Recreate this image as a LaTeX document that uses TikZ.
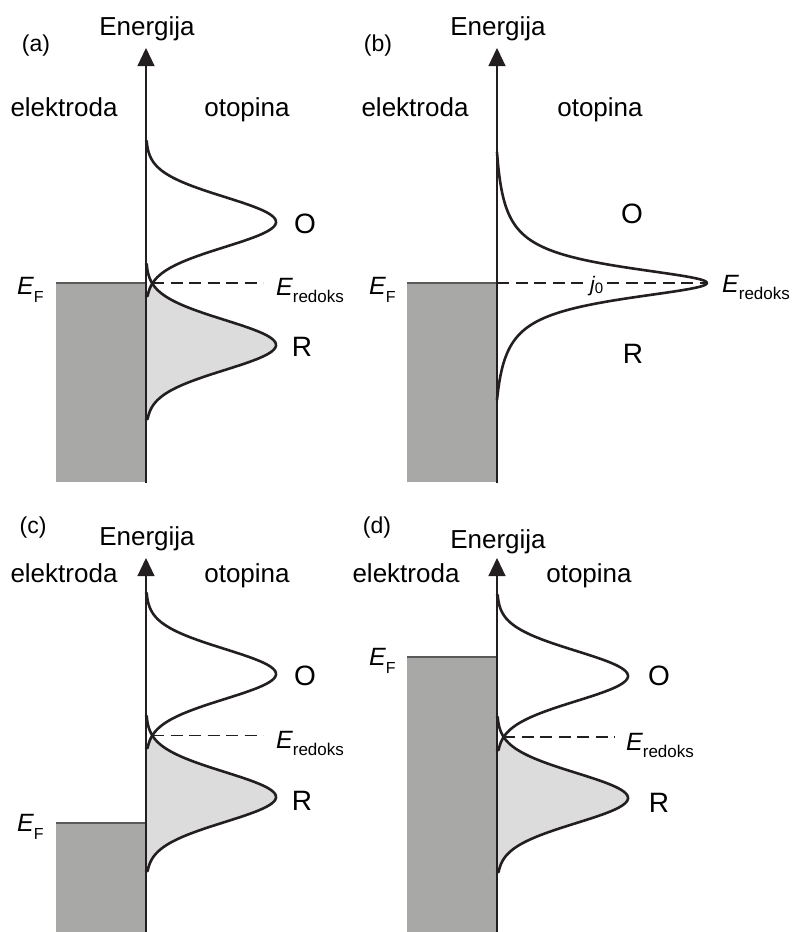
\documentclass[tikz,border=0pt]{standalone}
\usepackage{fontspec}
\setmainfont{Liberation Sans}
\usetikzlibrary{arrows.meta}
\definecolor{ink}{HTML}{231F20}
\definecolor{elgray}{HTML}{A8A8A7}
\definecolor{lightfill}{HTML}{DCDCDC}
\definecolor{edgegray}{HTML}{5A5A5A}
\newcommand\EF{{\fontsize{25}{30}\selectfont\itshape E}\raisebox{-8pt}{\fontsize{16}{16}\selectfont F}}
\newcommand\Ered{{\fontsize{25}{30}\selectfont\itshape E}\raisebox{-7pt}{\fontsize{17}{17}\selectfont redoks}}
\newcommand\twopeaks[4]{%
  \pgfmathsetmacro\hsep{(#3-#2)/2}%
  \fill[lightfill] (#1,#2+74) -- plot[domain=74:\hsep,samples=25,smooth] ({#1+#4*exp(-(\x*\x)/1250)},{#2+\x}) -- plot[domain=-\hsep:74,samples=80,smooth] ({#1+#4*exp(-(\x*\x)/1250)},{#3+\x}) -- (#1,#3+74) -- cycle;
  \draw[curve] (#1,#2-81) -- plot[domain=-81:74,samples=90,smooth] ({#1+#4*exp(-(\x*\x)/1250)},{#2+\x}) -- (#1,#2+74);
  \draw[curve] (#1,#3-81) -- plot[domain=-81:74,samples=90,smooth] ({#1+#4*exp(-(\x*\x)/1250)},{#3+\x}) -- (#1,#3+74);
}
\begin{document}
\begin{tikzpicture}[x=1pt,y=-1pt,
  txt/.style={inner sep=0pt, anchor=base, font=\fontsize{26}{30}\selectfont},
  tag/.style={inner sep=0pt, anchor=base, font=\fontsize{23}{28}\selectfont},
  big/.style={inner sep=0pt, anchor=base, font=\fontsize{28}{32}\selectfont},
  lev/.style={inner sep=0pt, anchor=base west},
  curve/.style={draw=ink, line width=2.6pt, line join=round, line cap=round},
  axisline/.style={draw=ink, line width=1.2pt, -{Triangle[length=18pt,width=17pt]}},
  level/.style={draw=ink, line width=1.7pt, dash pattern=on 12pt off 6.5pt},
  metal/.style={fill=elgray},
  metaledge/.style={draw=edgegray, line width=1.3pt},
]
\useasboundingbox (0,0) rectangle (796,932);

% ---------- panel (a)
\fill[metal] (56,283) rectangle (146,482);
\draw[metaledge] (56,283) -- (146,283);
\twopeaks{146}{222}{345}{130}
\draw[level] (152,283) -- (263,283);
\draw[axisline] (146,483) -- (146,48);
\node[tag] (la) at (36,51) {(a)};
\node[txt] (ena) at (147,35) {Energija};
\node[txt] (ela) at (64,116) {elektroda};
\node[txt] (ota) at (247,116) {otopina};
\node[lev] (efa) at (17,294) {\EF};
\node[lev] (era) at (276,295) {\Ered};
\node[big] (oa) at (305,233) {O};
\node[big] (ra) at (302,356) {R};

% ---------- panel (b)
\fill[metal] (407,283) rectangle (497,482);
\draw[metaledge] (407,283) -- (497,283);
\draw[curve] plot[domain=-131:0,samples=200] ({497+210*(1/(1+\x*\x/400)-0.0228)/(1-0.0228)},{283+\x}) -- plot[domain=0:117,samples=180] ({497+210*(1/(1+\x*\x/400)-0.0284)/(1-0.0284)},{283+\x});
\draw[level] (497,283) -- (585,283);
\draw[level] (607,283) -- (707,283);
\draw[axisline] (497,483) -- (497,48);
\node[tag] (lb) at (378,51) {(b)};
\node[txt] (enb) at (498,35) {Energija};
\node[txt] (elb) at (415,116) {elektroda};
\node[txt] (otb) at (600,116) {otopina};
\node[lev] (efb) at (369,294) {\EF};
\node[lev] (erb) at (722,292) {\Ered};
\node[lev] (jb) at (590,291) {{\fontsize{21}{24}\selectfont\itshape j}\raisebox{-2pt}{\fontsize{15}{15}\selectfont 0}};
\node[big] (ob) at (632,223) {O};
\node[big] (rb) at (633,363) {R};

% ---------- panel (c)
\fill[metal] (56,823) rectangle (146,932);
\draw[metaledge] (56,823) -- (146,823);
\twopeaks{146}{674}{797}{130}
\draw[level] (152,735.5) -- (263,735.5);
\draw[axisline] (146,932) -- (146,558);
\node[tag] (lc) at (33,533) {(c)};
\node[txt] (enc) at (147,545) {Energija};
\node[txt] (elc) at (64,582) {elektroda};
\node[txt] (otc) at (247,582) {otopina};
\node[lev] (efc) at (17,831) {\EF};
\node[lev] (erc) at (276,748) {\Ered};
\node[big] (oc) at (305,685) {O};
\node[big] (rc) at (302,810) {R};

% ---------- panel (d)
\fill[metal] (407,657) rectangle (497,932);
\draw[metaledge] (407,657) -- (497,657);
\twopeaks{497}{676}{798}{131}
\draw[level] (503,737) -- (615,737);
\draw[axisline] (497,932) -- (497,558);
\node[tag] (ld) at (377,533) {(d)};
\node[txt] (end) at (498,548) {Energija};
\node[txt] (eld) at (406,582) {elektroda};
\node[txt] (otd) at (589,582) {otopina};
\node[lev] (efd) at (369,665) {\EF};
\node[lev] (erd) at (626,750) {\Ered};
\node[big] (od) at (659,685) {O};
\node[big] (rd) at (659,812) {R};
\end{tikzpicture}
\end{document}
